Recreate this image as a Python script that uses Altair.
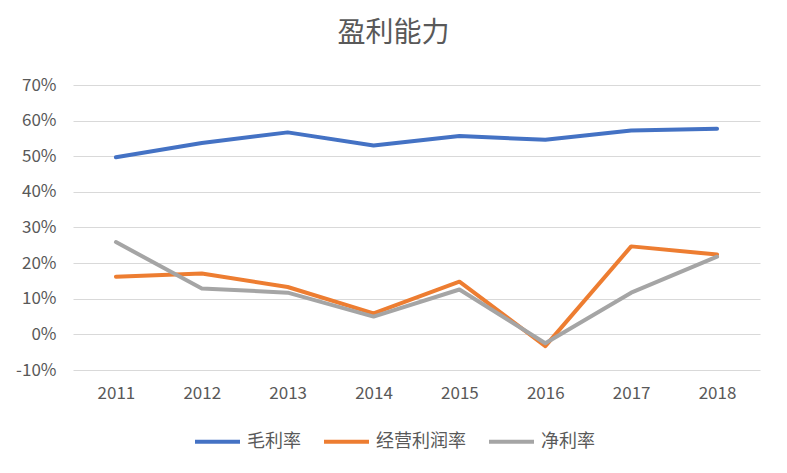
import altair as alt
import pandas as pd

years = ["2011", "2012", "2013", "2014", "2015", "2016", "2017", "2018"]
gross = [0.497, 0.537, 0.567, 0.530, 0.557, 0.546, 0.572, 0.577]
operating = [0.162, 0.171, 0.133, 0.059, 0.148, -0.033, 0.247, 0.224]
net = [0.259, 0.129, 0.117, 0.050, 0.126, -0.025, 0.117, 0.218]
series = ["毛利率", "经营利润率", "净利率"]
colors = ["#4472C4", "#ED7D31", "#A5A5A5"]

rows = []
for name, vals in zip(series, [gross, operating, net]):
    for y, v in zip(years, vals):
        rows.append({"year": y, "value": v, "series": name})
df = pd.DataFrame(rows)

font = "Noto Sans CJK SC"

chart = alt.Chart(df).mark_line(strokeWidth=4, strokeCap="round", strokeJoin="round").encode(
    x=alt.X("year:N", sort=years,
            scale=alt.Scale(type="point", padding=0.5),
            axis=alt.Axis(title=None, labelAngle=0, ticks=False, domain=False, grid=False,
                          labelFontSize=17, labelColor="#595959", labelPadding=15, labelFont=font)),
    y=alt.Y("value:Q",
            scale=alt.Scale(domain=[-0.1, 0.7], nice=False, zero=False),
            axis=alt.Axis(title=None, values=[-0.1, 0, 0.1, 0.2, 0.3, 0.4, 0.5, 0.6, 0.7],
                          labelExpr="replace(format(datum.value, '.0%'), '\u2212', '-')",
                          ticks=False, domain=False, grid=True, gridColor="#D9D9D9", gridWidth=1,
                          labelFontSize=17, labelColor="#595959", labelPadding=17, labelFont=font)),
    color=alt.Color("series:N", sort=series,
                    scale=alt.Scale(domain=series, range=colors),
                    legend=alt.Legend(title=None, orient="none", legendX=120, legendY=332,
                                      direction="horizontal", symbolType="stroke",
                                      symbolSize=2025, symbolStrokeWidth=4,
                                      labelFontSize=18, labelColor="#595959", labelFont=font,
                                      labelOffset=5, columnPadding=15, symbolOffset=0)),
).properties(
    width=687,
    height=285,
    background="white",
    autosize=alt.AutoSizeParams(type="none"),
    padding={"left": 73, "top": 85, "right": 27, "bottom": 103},
    title=alt.TitleParams("盈利能力", fontSize=28, color="#595959", font=font,
                          fontWeight="normal", anchor="middle", dx=-23, offset=28),
).configure_view(stroke="transparent", strokeWidth=0)

chart.save("out.html", embed_options={"renderer": "svg", "actions": False})
